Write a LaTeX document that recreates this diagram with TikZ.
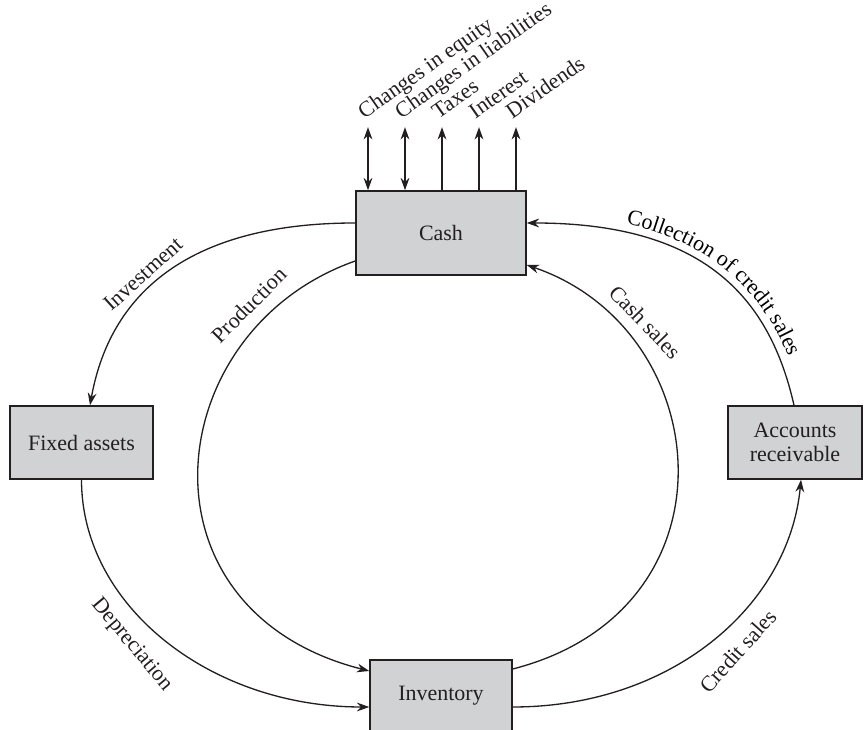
\documentclass[tikz,border=0pt]{standalone}
\usepackage{fontspec}
\setmainfont{Liberation Serif}
\usepackage{xcolor}
\usepackage{tikz}
\usetikzlibrary{arrows.meta,calc,decorations.text}
\definecolor{ink}{RGB}{35,31,32}
\definecolor{boxgray}{RGB}{209,210,212}

\begin{document}
\begin{tikzpicture}[x=0.02cm,y=0.02cm,color=ink,
  >={Stealth[length=7pt,width=5pt]},
  box/.style={draw,fill=boxgray,line width=0.9pt,inner sep=0pt,align=center,font=\fontsize{12.5}{13.5}\selectfont},
  flow/.style={line width=0.75pt,->},
  lab/.style={inner sep=0pt,font=\fontsize{12.5}{13.5}\selectfont}]
\useasboundingbox (0,0) rectangle (866,730);

% riquadri
\node (cash) at (441,497) [box,minimum width=3.4cm,minimum height=1.68cm] {Cash};
\node (fixed) at (81.5,287.5) [box,minimum width=2.86cm,minimum height=1.46cm] {Fixed assets};
\node (receiv) at (795,287.5) [box,minimum width=2.68cm,minimum height=1.46cm] {Accounts\\receivable};
\node (invent) at (441,34) [box,minimum width=2.84cm,minimum height=1.44cm] {Inventory};

% frecce in alto - flussi di cassa
\coordinate (up1) at ($(cash.north)+(-73,63)$);
\coordinate (up2) at ($(cash.north)+(-36,63)$);
\coordinate (up3) at ($(cash.north)+(1,63)$);
\coordinate (up4) at ($(cash.north)+(38,63)$);
\coordinate (up5) at ($(cash.north)+(75,63)$);
\draw[line width=0.75pt,<->] (up1 |- cash.north) -- (up1);
\draw[line width=0.75pt,<->] (up2 |- cash.north) -- (up2);
\draw[line width=0.75pt,->] (up3 |- cash.north) -- (up3);
\draw[line width=0.75pt,->] (up4 |- cash.north) -- (up4);
\draw[line width=0.75pt,->] (up5 |- cash.north) -- (up5);
\node (equity) at ($(up1)+(-4,8)$) [lab,rotate=35,anchor=base west] {Changes in equity};
\node (liab) at ($(up2)+(-4,8)$) [lab,rotate=35,anchor=base west] {Changes in liabilities};
\node (taxes) at ($(up3)+(-4,8)$) [lab,rotate=35,anchor=base west] {Taxes};
\node (interest) at ($(up4)+(-4,8)$) [lab,rotate=35,anchor=base west] {Interest};
\node (divid) at ($(up5)+(-4,8)$) [lab,rotate=35,anchor=base west] {Dividends};

% anello esterno
\draw[flow] ($(cash.west)+(0,10)$) .. controls +(-160,0) and +(21,117) .. ($(fixed.north)+(8.5,0)$);
\draw[flow] (fixed.south) .. controls +(0,-126) and +(-159,0) .. ($(invent.west)+(0,-11)$);
\draw[flow] ($(invent.east)+(0,-11)$) .. controls +(159,0) and +(-12,-126) .. ($(receiv.south)+(6,0)$);
\draw[flow] ($(receiv.north)+(-1,0)$) .. controls +(-25,110) and +(175,0) .. ($(cash.east)+(0,10)$);

% anello interno
\draw[flow] ($(cash.west)+(0,-28)$) .. controls +(-196,-69) and +(-240,61) .. ($(invent.west)+(0,25)$);
\draw[flow] ($(invent.east)+(0,27)$) .. controls +(230,59) and +(190,-65) .. ($(cash.east)+(0,-32)$);

% etichette
\node (invest) at (143,456) [lab,rotate=42] {Investment};
\node (prod) at (249,425) [lab,rotate=45] {Production};
\node (cashs) at (645,408) [lab,rotate=-46] {Cash sales};
\node (deprec) at (132,85) [lab,rotate=-50] {Depreciation};
\node (credit) at (738,79) [lab,rotate=48] {Credit sales};
\path[decorate,decoration={text along path,
  text={|\fontsize{12.5}{13.5}\selectfont|Collection of credit sales},
  text align={left indent=2.0cm}}]
  ($(cash.east)+(0,19)$) .. controls +(180,0) and +(-25,112) .. ($(receiv.north)+(8,0)$);
\end{tikzpicture}
\end{document}
